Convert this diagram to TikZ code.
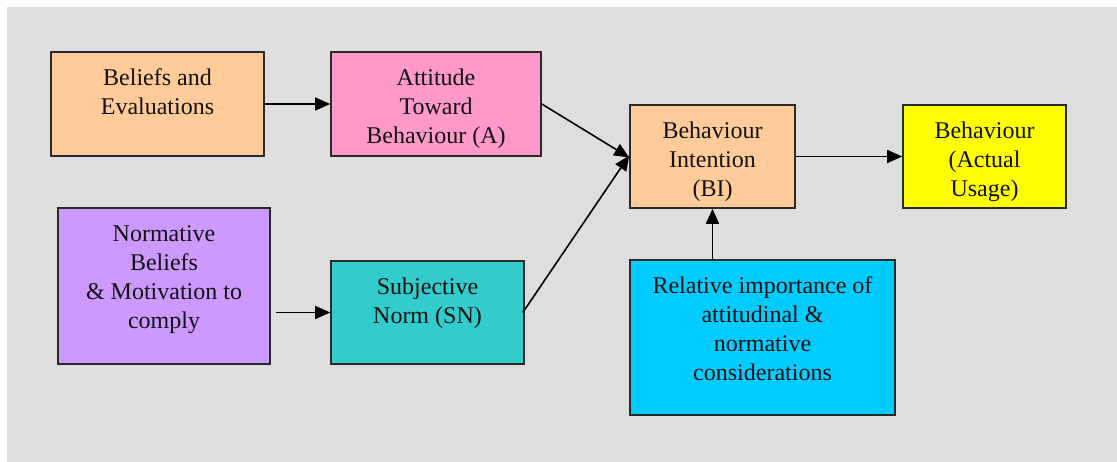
\documentclass[tikz,border=0pt]{standalone}
\usepackage{fontspec}
\setmainfont{Liberation Serif}
\usetikzlibrary{arrows.meta}
\definecolor{bgc}{HTML}{DEDEDE}
\definecolor{peach}{HTML}{FFCC99}
\definecolor{pinkc}{HTML}{FF99CC}
\definecolor{yell}{HTML}{FFFF00}
\definecolor{lav}{HTML}{CC99FF}
\definecolor{teal2}{HTML}{33CCCC}
\definecolor{skyc}{HTML}{00CCFF}
\definecolor{edgec}{HTML}{2A2A2A}
\definecolor{txt}{HTML}{111111}
\newcommand{\boxlabel}[3]{\parbox[c][#2][t]{#1}{\centering\vspace*{13.5pt}\strut #3}}
\tikzset{
  bx/.style={draw=edgec, line width=1.6pt, inner sep=0pt, rectangle, text=txt,
    font=\fontsize{24}{29}\selectfont},
  arr/.style={line width=1.6pt, -{Triangle[length=15pt,width=13pt]}}
}
\begin{document}
\begin{tikzpicture}[x=1pt,y=-1pt]
\useasboundingbox (0,0) rectangle (1117,462);
\fill[bgc] (7,7) rectangle (1117,462);
\node[bx, fill=peach] (bel) at (157.5,104) {\boxlabel{213pt}{104pt}{Beliefs and\\Evaluations}};
\node[bx, fill=pinkc] (att) at (436,104) {\boxlabel{210pt}{104pt}{Attitude\\Toward\\Behaviour (A)}};
\node[bx, fill=peach] (bi) at (712.5,156.5) {\boxlabel{165pt}{103pt}{Behaviour\\Intention\\(BI)}};
\node[bx, fill=yell] (beh) at (984.5,156.5) {\boxlabel{163pt}{103pt}{Behaviour\\(Actual\\Usage)}};
\node[bx, fill=lav] (norm) at (164,286) {\boxlabel{212pt}{156pt}{Normative\\Beliefs\\\& Motivation to\\comply}};
\node[bx, fill=teal2] (sn) at (427.5,312.5) {\boxlabel{193pt}{103pt}{Subjective\\Norm (SN)}};
\node[bx, fill=skyc] (rel) at (762.5,337.5) {\boxlabel{265pt}{155pt}{Relative importance of\\attitudinal \&\\normative\\considerations}};
\coordinate (nstart) at ([xshift=5pt]norm.east |- sn.west);
\draw[arr] (bel.east) -- (att.west);
\draw[arr] (att.east) -- ([yshift=-1pt]bi.west);
\draw[arr] ([xshift=-2pt]sn.east) -- ([yshift=1pt]bi.west);
\draw[arr] (nstart) -- (sn.west);
\draw[arr] (rel.north -| bi.south) -- (bi.south);
\draw[arr] (bi.east) -- (beh.west);
\end{tikzpicture}
\end{document}
